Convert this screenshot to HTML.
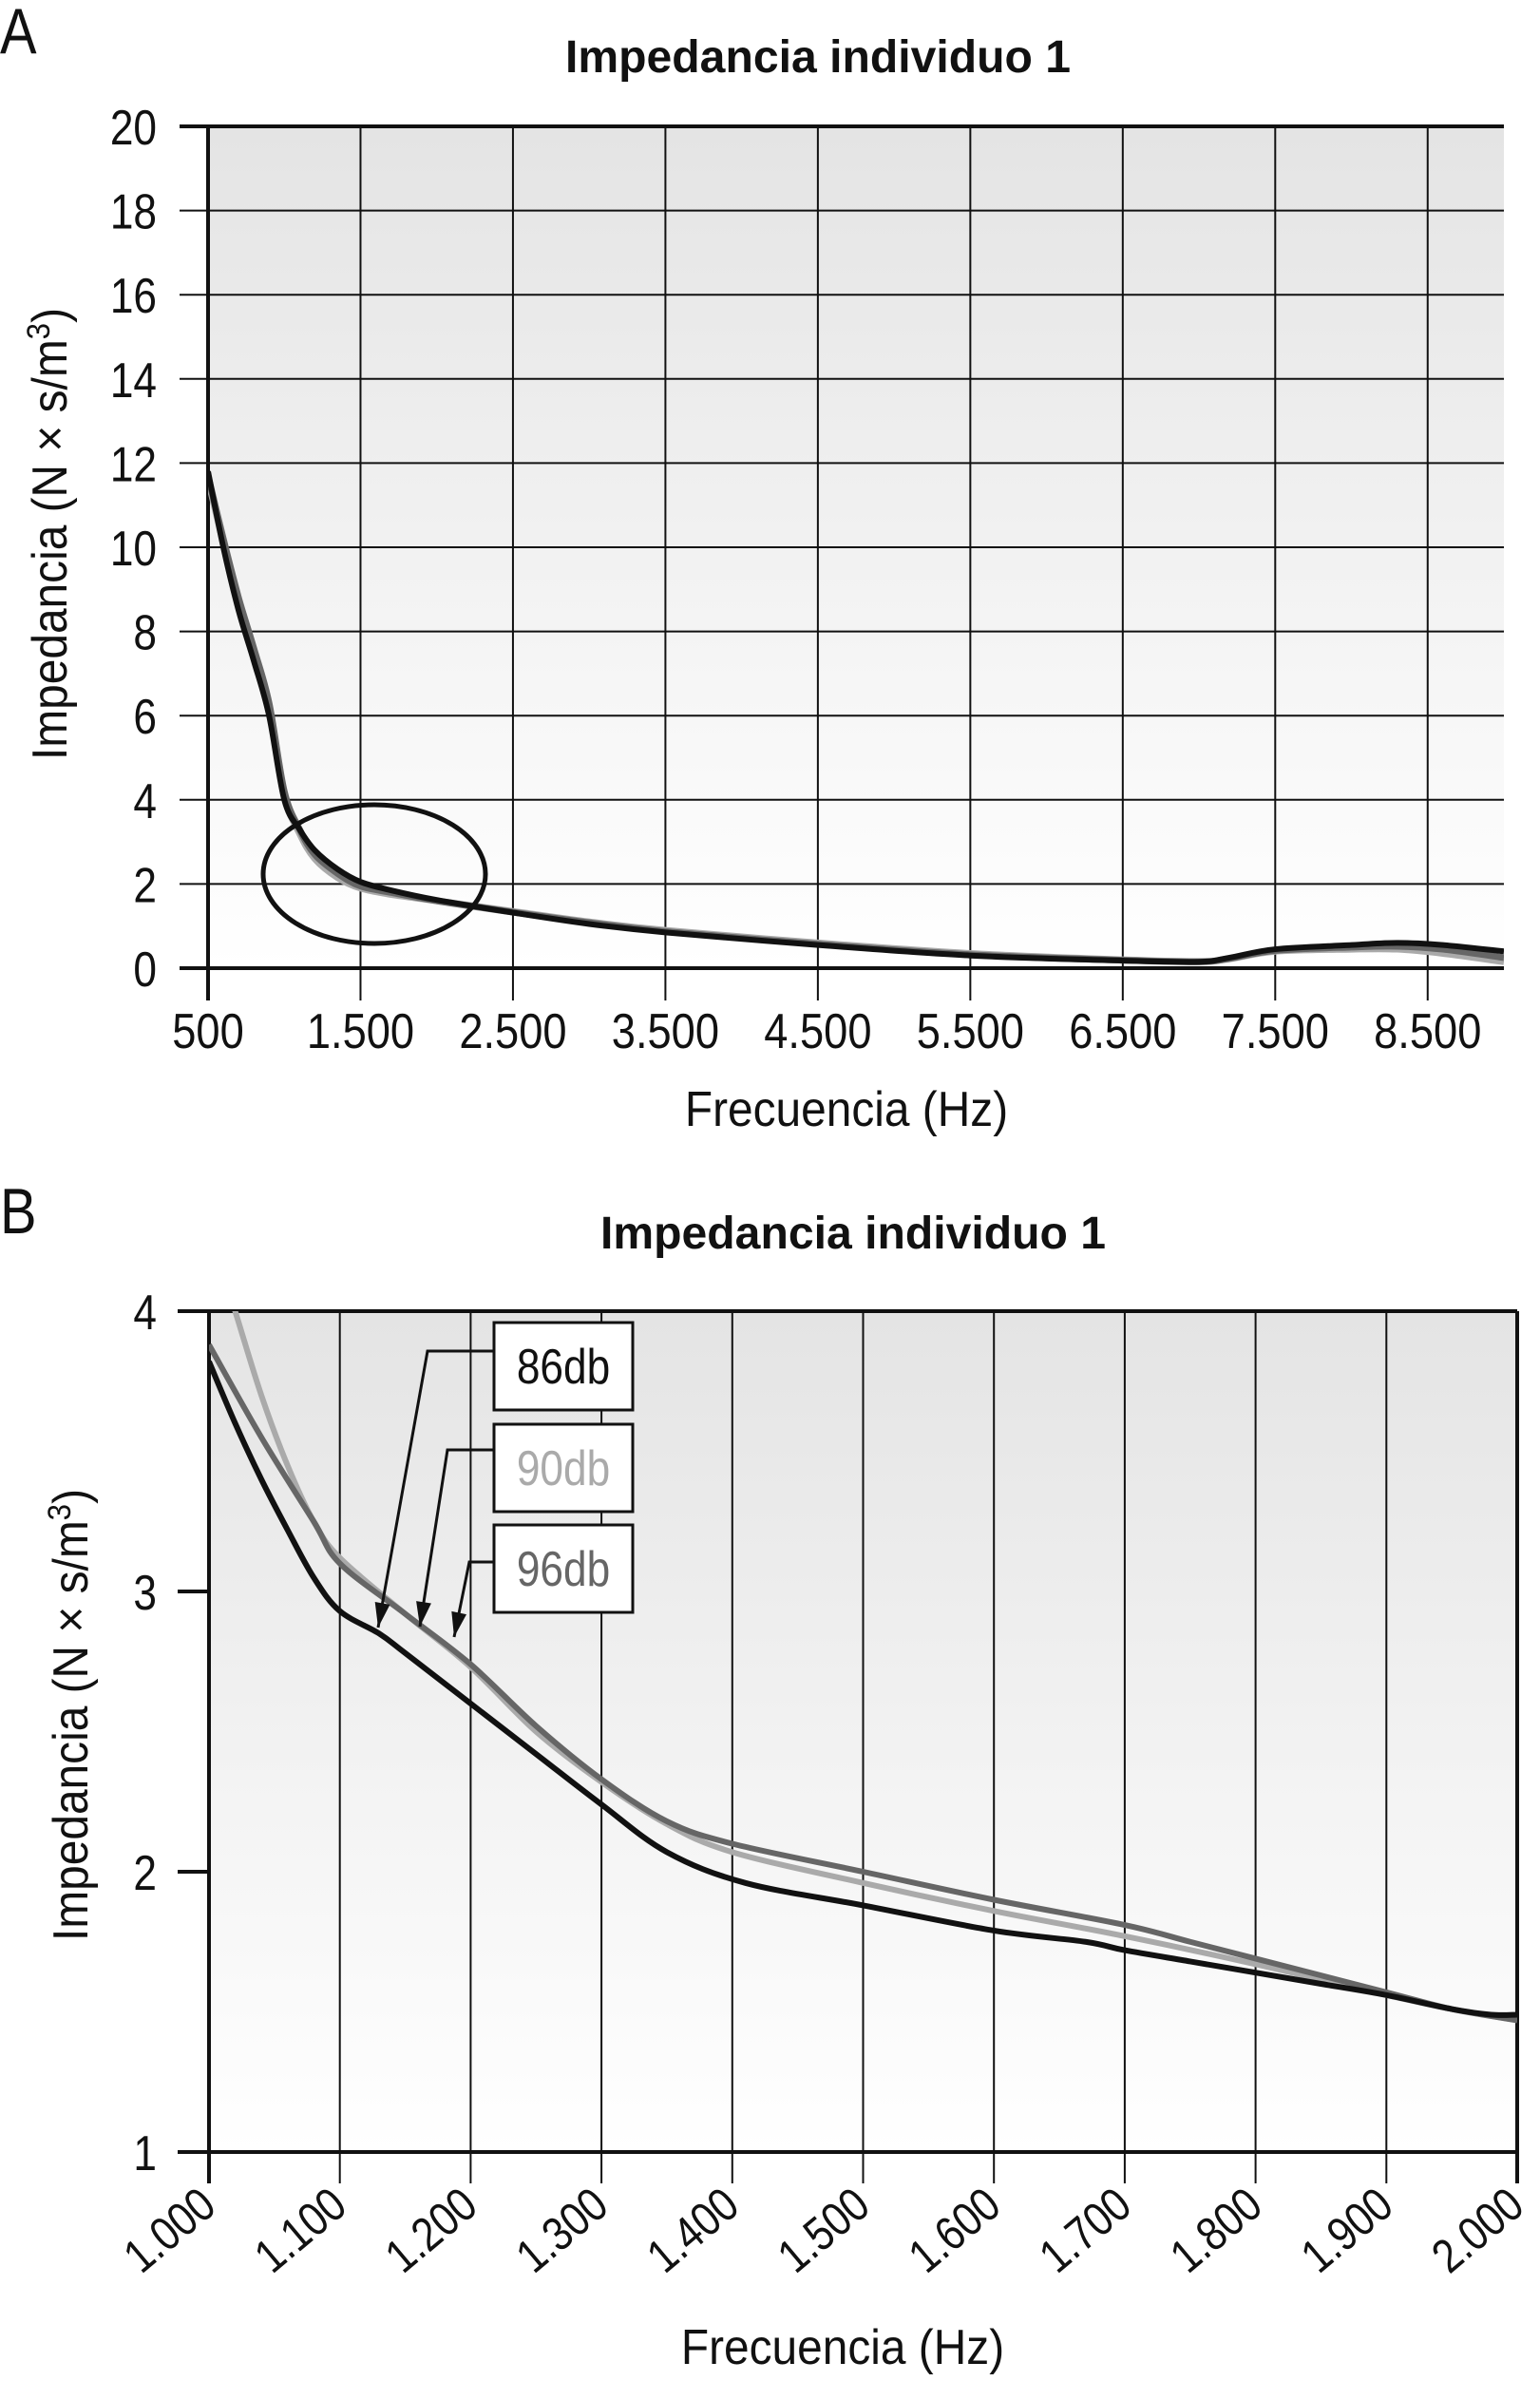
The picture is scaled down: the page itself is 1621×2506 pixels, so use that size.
<!DOCTYPE html>
<html><head><meta charset="utf-8"><style>
html,body{margin:0;padding:0;background:#fff;}
svg{display:block;font-family:"Liberation Sans Narrow","Liberation Sans",sans-serif;}
</style></head><body>
<svg id="fig" width="1621" height="2506" viewBox="0 0 1621 2506" xmlns="http://www.w3.org/2000/svg">
<defs>
<linearGradient id="bg" x1="0" y1="0" x2="0" y2="1"><stop offset="0" stop-color="#e4e4e4"/><stop offset="1" stop-color="#ffffff"/></linearGradient>
<clipPath id="clipA"><rect x="219" y="133" width="1364" height="886"/></clipPath>
<clipPath id="clipB"><rect x="220" y="1380" width="1377" height="885"/></clipPath>
</defs>
<g id="chartA"></g>
<g id="chartB"></g>
</svg>
<script>
// Chart A data
const aXTicks = [500,1500,2500,3500,4500,5500,6500,7500,8500];
const aXTickLabels = ["500","1.500","2.500","3.500","4.500","5.500","6.500","7.500","8.500"];
const aYTicks = [0,2,4,6,8,10,12,14,16,18,20];
const aFreq86 = [500,600,700,800,900,1000,1100,1200,1350,1500,1700,2000,2500,3000,3500,4500,5500,6500,7000,7200,7500,8000,8300,8600,9000];
const aVal86 = [11.8,10.0,8.5,7.3,6.0,4.0,3.3,2.8,2.35,2.05,1.85,1.62,1.32,1.05,0.85,0.55,0.3,0.18,0.15,0.25,0.45,0.55,0.6,0.55,0.4];
const aVal90 = [11.6,10.1,8.6,7.5,6.2,4.1,3.2,2.6,2.15,1.9,1.75,1.6,1.35,1.1,0.9,0.6,0.35,0.2,0.16,0.22,0.4,0.45,0.45,0.35,0.15];
const aVal96 = [11.7,10.2,8.8,7.6,6.3,4.2,3.3,2.7,2.25,1.95,1.8,1.6,1.33,1.08,0.87,0.57,0.32,0.19,0.15,0.23,0.42,0.5,0.52,0.45,0.25];
// Chart B data
const bXTicks = [1000,1100,1200,1300,1400,1500,1600,1700,1800,1900,2000];
const bXTickLabels = ["1.000","1.100","1.200","1.300","1.400","1.500","1.600","1.700","1.800","1.900","2.000"];
const bYTicks = [1,2,3,4];
const bFreq86 = [1000,1020,1040,1060,1080,1100,1130,1150,1200,1250,1300,1350,1410,1500,1600,1670,1700,1750,1800,1850,1900,1950,1980,2000];
const bVal86 = [3.82,3.6,3.4,3.22,3.05,2.93,2.85,2.78,2.6,2.42,2.24,2.07,1.96,1.88,1.79,1.75,1.72,1.68,1.64,1.6,1.56,1.51,1.49,1.49];
const bFreq90 = [1000,1020,1040,1060,1080,1100,1150,1200,1250,1300,1350,1400,1500,1600,1700,1800,1900,1950,2000];
const bVal90 = [4.3,4.0,3.7,3.45,3.25,3.12,2.92,2.73,2.5,2.32,2.17,2.07,1.96,1.86,1.77,1.67,1.56,1.51,1.47];
const bFreq96 = [1000,1040,1080,1100,1150,1200,1250,1300,1350,1400,1500,1600,1700,1750,1800,1900,1950,2000];
const bVal96 = [3.88,3.55,3.25,3.1,2.92,2.74,2.52,2.33,2.18,2.1,2.0,1.9,1.81,1.75,1.69,1.57,1.51,1.47];

const NS="http://www.w3.org/2000/svg";
function mk(parent,tag,attrs,text){const e=document.createElementNS(NS,tag);for(const k in attrs)e.setAttribute(k,attrs[k]);if(text!==undefined)e.textContent=text;parent.appendChild(e);return e;}
function condense(t,f){const w=t.getComputedTextLength();if(w>0){t.setAttribute('textLength',w*f);t.setAttribute('lengthAdjust','spacingAndGlyphs');}}
function smoothPath(pts){let d="M"+pts[0][0]+","+pts[0][1];for(let i=0;i<pts.length-1;i++){const p0=pts[i-1]||pts[i],p1=pts[i],p2=pts[i+1],p3=pts[i+2]||p2;const c1x=p1[0]+(p2[0]-p0[0])/6,c1y=p1[1]+(p2[1]-p0[1])/6,c2x=p2[0]-(p3[0]-p1[0])/6,c2y=p2[1]-(p3[1]-p1[1])/6;d+=" C"+c1x+","+c1y+" "+c2x+","+c2y+" "+p2[0]+","+p2[1];}return d;}
function yTitle(parent,tx,ty){
 const t=mk(parent,'text',{x:0,y:0,'font-size':52,'text-anchor':'middle',fill:'#111',transform:'translate('+tx+','+ty+') rotate(-90)'});
 mk(t,'tspan',{},'Impedancia (N \u00d7 s/m');
 mk(t,'tspan',{dy:-18,'font-size':34},'3');
 mk(t,'tspan',{dy:18},')');
 return t;
}

// ---- Chart A ----
const A=document.getElementById('chartA');
const axL=219,axR=1583,ayT=133,ayB=1019;
const ax=v=>axL+(v-500)/8500*(axR-axL);
const ay=v=>ayB-v/20*(ayB-ayT);
let t=mk(A,'text',{x:0,y:56,'font-size':68,fill:'#111'},'A');


condense(t,0.85);
t=mk(A,'text',{x:861,y:76,'font-size':48,'font-weight':'bold','text-anchor':'middle',fill:'#111'},'Impedancia individuo 1');


t.setAttribute('textLength','532');
t.setAttribute('lengthAdjust','spacingAndGlyphs');
let r=mk(A,'rect',{x:axL,y:ayT,width:axR-axL,height:ayB-ayT,fill:'url(#bg)'});


aYTicks.forEach(v=>{const y=ay(v);
 const l=mk(A,'line',{x1:axL-30,x2:axR,y1:y,y2:y,stroke:'#111','stroke-width':(v===0||v===20)?4:2});
 
 
 const tx=mk(A,'text',{x:165,y:y+19,'font-size':52,'text-anchor':'end',fill:'#111'},String(v));
 
 
 condense(tx,0.85);});
aXTicks.forEach((v,i)=>{const x=ax(v);
 const l=mk(A,'line',{x1:x,x2:x,y1:ayT,y2:ayB+34,stroke:'#111','stroke-width':i===0?4:2});
 
 
 const tx=mk(A,'text',{x:x,y:1103,'font-size':52,'text-anchor':'middle',fill:'#111'},aXTickLabels[i]);
 
 
 condense(tx,0.87);});
t=mk(A,'text',{x:891,y:1185,'font-size':52,'text-anchor':'middle',fill:'#111'},'Frecuencia (Hz)');


condense(t,0.92);
t=yTitle(A,70,562);


condense(t,0.92);
const gA=mk(A,'g',{'clip-path':'url(#clipA)'});
[[aVal90,'#aaaaaa',7,'line-90db-a'],[aVal96,'#666666',7,'line-96db-a'],[aVal86,'#111111',6,'line-86db-a']].forEach(s=>{
 const p=mk(gA,'path',{d:smoothPath(aFreq86.map((f,i)=>[ax(f),ay(s[0][i])])),fill:'none',stroke:s[1],'stroke-width':s[2],'stroke-linejoin':'round'});
 
 });
let e=mk(A,'ellipse',{cx:394,cy:920,rx:117,ry:73,fill:'none',stroke:'#111','stroke-width':5});



// ---- Chart B ----
const B=document.getElementById('chartB');
const bxL=220,bxR=1597,byT=1380,byB=2265;
const bx=v=>bxL+(v-1000)/1000*(bxR-bxL);
const by=v=>byB-(v-1)/3*(byB-byT);
t=mk(B,'text',{x:0,y:1298,'font-size':68,fill:'#111'},'B');


condense(t,0.85);
t=mk(B,'text',{x:898,y:1314,'font-size':48,'font-weight':'bold','text-anchor':'middle',fill:'#111'},'Impedancia individuo 1');


t.setAttribute('textLength','532');
t.setAttribute('lengthAdjust','spacingAndGlyphs');
r=mk(B,'rect',{x:bxL,y:byT,width:bxR-bxL,height:byB-byT,fill:'url(#bg)'});


bXTicks.forEach((v,i)=>{const x=bx(v);
 const l=mk(B,'line',{x1:x,x2:x,y1:byT,y2:byB+33,stroke:'#111','stroke-width':(i===0||i===10)?4:2});
 
 
 const tx=mk(B,'text',{x:0,y:0,'font-size':50,'text-anchor':'end',fill:'#111',transform:'translate('+(x+10)+',2326) rotate(-40)'},bXTickLabels[i]);
 
 
 condense(tx,0.85);});
bYTicks.forEach(v=>{const y=by(v);
 const full=(v===1||v===4);
 const l=mk(B,'line',{x1:bxL-33,x2:full?bxR:bxL,y1:y,y2:y,stroke:'#111','stroke-width':4});
 
 
 const tx=mk(B,'text',{x:165,y:y+19,'font-size':52,'text-anchor':'end',fill:'#111'},String(v));
 
 
 condense(tx,0.85);});
t=mk(B,'text',{x:887,y:2488,'font-size':52,'text-anchor':'middle',fill:'#111'},'Frecuencia (Hz)');


condense(t,0.92);
t=yTitle(B,92,1805);


condense(t,0.92);
const gB=mk(B,'g',{'clip-path':'url(#clipB)'});
[[bFreq90,bVal90,'#aaaaaa','line-90db-b'],[bFreq96,bVal96,'#666666','line-96db-b'],[bFreq86,bVal86,'#111111','line-86db-b']].forEach(s=>{
 const p=mk(gB,'path',{d:smoothPath(s[0].map((f,i)=>[bx(f),by(s[1][i])])),fill:'none',stroke:s[2],'stroke-width':6,'stroke-linejoin':'round'});
 
 });
const legends=[["86db","#111",1392,1422,450,398,1713],["90db","#aaa",1499,1526,471,442,1712],["96db","#666",1605,1644,494,478,1723]];
legends.forEach(L=>{
 const g=mk(B,'g',{});
 
 
 mk(g,'path',{d:'M520,'+L[3]+' L'+L[4]+','+L[3]+' L'+L[5]+','+L[6],fill:'none',stroke:'#111','stroke-width':3});
 const dx=L[5]-L[4],dy=L[6]-L[3],len=Math.hypot(dx,dy),ux=dx/len,uy=dy/len;
 const bxp=L[5]-ux*26,byp=L[6]-uy*26;
 mk(g,'polygon',{points:L[5]+','+L[6]+' '+(bxp-uy*8)+','+(byp+ux*8)+' '+(bxp+uy*8)+','+(byp-ux*8),fill:'#111'});
 mk(g,'rect',{x:520,y:L[2],width:146,height:92,fill:'#fff',stroke:'#111','stroke-width':3});
 const lt=mk(g,'text',{x:593,y:L[2]+64,'font-size':52,'text-anchor':'middle',fill:L[1]},L[0]);
 condense(lt,0.85);
});
</script>
</body></html>
